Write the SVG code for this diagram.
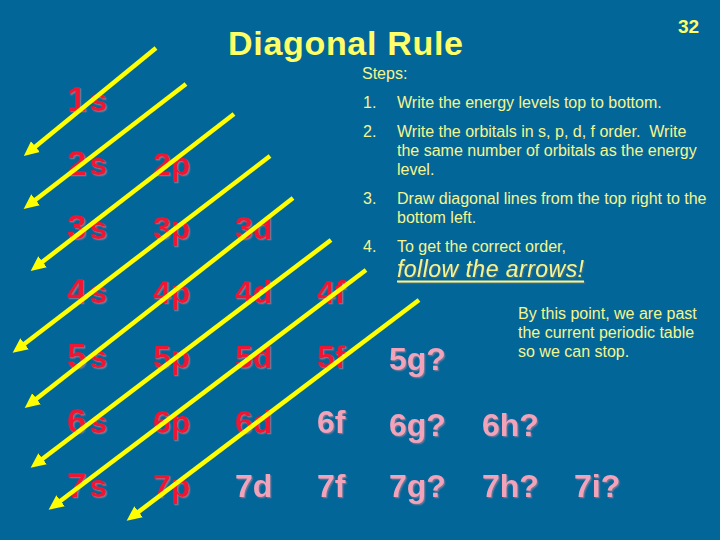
<svg xmlns="http://www.w3.org/2000/svg" width="720" height="540" viewBox="0 0 720 540">
<style>
.bg{fill:#036699}
.title{font-family:"Liberation Sans",Arial,sans-serif;font-weight:bold;fill:#FFFF66}
.body{font-family:"Liberation Sans",Arial,sans-serif;font-size:16px;fill:#F5F58E}
.orb{font-family:"Liberation Sans",Arial,sans-serif;font-weight:bold;font-size:32px;filter:url(#sh)}
.red{fill:#EE1532}
.pink{fill:#F2A3BA}
.dig{font-size:35px}
.arrow{stroke:#FFFF00;stroke-width:4.5;fill:none;marker-end:url(#ah)}
.follow{font-family:"Liberation Sans",Arial,sans-serif;font-style:italic;font-size:23px;fill:#F5F58E}
</style>
<defs>
<filter id="sh" x="-10%" y="-10%" width="130%" height="130%">
<feDropShadow dx="1.3" dy="1.3" stdDeviation="0" flood-color="#85809A" flood-opacity="0.75"/>
</filter>
<filter id="sh2" x="-10%" y="-10%" width="130%" height="130%">
<feDropShadow dx="1.2" dy="1.2" stdDeviation="0" flood-color="#5A6A78" flood-opacity="0.8"/>
</filter>
<marker id="ah" markerUnits="userSpaceOnUse" markerWidth="16" markerHeight="16" viewBox="0 0 16 16" refX="7" refY="8" orient="auto">
<path d="M0,1 L15,8 L0,15 z" fill="#FFFF00"/>
</marker>
</defs>
<rect class="bg" x="0" y="0" width="720" height="540"/>

<g id="title">
<text class="title" x="228" y="55" font-size="34" textLength="235" lengthAdjust="spacing">Diagonal Rule</text>
</g>
<g id="page">
<text class="title" x="678" y="33" font-size="19">32</text>
</g>

<g id="steps">
<text class="body" x="362" y="79">Steps:</text>
<text class="body" x="363" y="108">1.</text>
<text class="body" x="397" y="108">Write the energy levels top to bottom.</text>
<text class="body" x="363" y="137">2.</text>
<text class="body" x="397" y="137">Write the orbitals in s, p, d, f order.&#160; Write</text>
<text class="body" x="397" y="156">the same number of orbitals as the energy</text>
<text class="body" x="397" y="175">level.</text>
<text class="body" x="363" y="204">3.</text>
<text class="body" x="397" y="204">Draw diagonal lines from the top right to the</text>
<text class="body" x="397" y="223">bottom left.</text>
<text class="body" x="363" y="252">4.</text>
<text class="body" x="397" y="252">To get the correct order,</text>
<g filter="url(#sh2)">
<text class="follow" x="397" y="277" textLength="187" lengthAdjust="spacing">follow the arrows!</text>
<rect x="397" y="280.5" width="187" height="2" fill="#F5F58E"/>
</g>
</g>

<g id="note">
<text class="body" x="518" y="319">By this point, we are past</text>
<text class="body" x="518" y="338">the current periodic table</text>
<text class="body" x="518" y="357">so we can stop.</text>
</g>

<g id="n1s"><text class="orb red" x="67" y="111"><tspan class="dig">1</tspan><tspan dx="3">s</tspan></text></g>
<g id="n2s"><text class="orb red" x="67" y="175"><tspan class="dig">2</tspan><tspan dx="3">s</tspan></text></g>
<g id="n2p"><text class="orb red" x="153" y="175">2p</text></g>
<g id="n3s"><text class="orb red" x="67" y="239"><tspan class="dig">3</tspan><tspan dx="3">s</tspan></text></g>
<g id="n3p"><text class="orb red" x="153" y="239">3p</text></g>
<g id="n3d"><text class="orb red" x="235" y="239">3d</text></g>
<g id="n4s"><text class="orb red" x="67" y="303"><tspan class="dig">4</tspan><tspan dx="3">s</tspan></text></g>
<g id="n4p"><text class="orb red" x="153" y="303">4p</text></g>
<g id="n4d"><text class="orb red" x="235" y="303">4d</text></g>
<g id="n4f"><text class="orb red" x="317" y="303">4f</text></g>
<g id="n5s"><text class="orb red" x="67" y="368"><tspan class="dig">5</tspan><tspan dx="3">s</tspan></text></g>
<g id="n5p"><text class="orb red" x="153" y="368">5p</text></g>
<g id="n5d"><text class="orb red" x="235" y="368">5d</text></g>
<g id="n5f"><text class="orb red" x="317" y="368">5f</text></g>
<g id="n5g"><text class="orb pink" x="389" y="370">5g?</text></g>
<g id="n6s"><text class="orb red" x="67" y="433"><tspan class="dig">6</tspan><tspan dx="3">s</tspan></text></g>
<g id="n6p"><text class="orb red" x="153" y="433">6p</text></g>
<g id="n6d"><text class="orb red" x="235" y="433">6d</text></g>
<g id="n6f"><text class="orb pink" x="317" y="433">6f</text></g>
<g id="n6g"><text class="orb pink" x="389" y="436">6g?</text></g>
<g id="n6h"><text class="orb pink" x="482" y="436">6h?</text></g>
<g id="n7s"><text class="orb red" x="67" y="497"><tspan class="dig">7</tspan><tspan dx="3">s</tspan></text></g>
<g id="n7p"><text class="orb red" x="153" y="497">7p</text></g>
<g id="n7d"><text class="orb pink" x="235" y="497">7d</text></g>
<g id="n7f"><text class="orb pink" x="317" y="497">7f</text></g>
<g id="n7g"><text class="orb pink" x="389" y="497">7g?</text></g>
<g id="n7h"><text class="orb pink" x="482" y="497">7h?</text></g>
<g id="n7i"><text class="orb pink" x="574" y="497">7i?</text></g>

<g id="connectors">
<path class="arrow" d="M156,48 L30,151"/>
<path class="arrow" d="M186,84 L30,204"/>
<path class="arrow" d="M234,114 L37,266"/>
<path class="arrow" d="M270,156 L19,348"/>
<path class="arrow" d="M293,198 L31,403"/>
<path class="arrow" d="M331,240 L37,463"/>
<path class="arrow" d="M366,270 L55,505"/>
<path class="arrow" d="M419,300 L133,516"/>
</g>
</svg>
